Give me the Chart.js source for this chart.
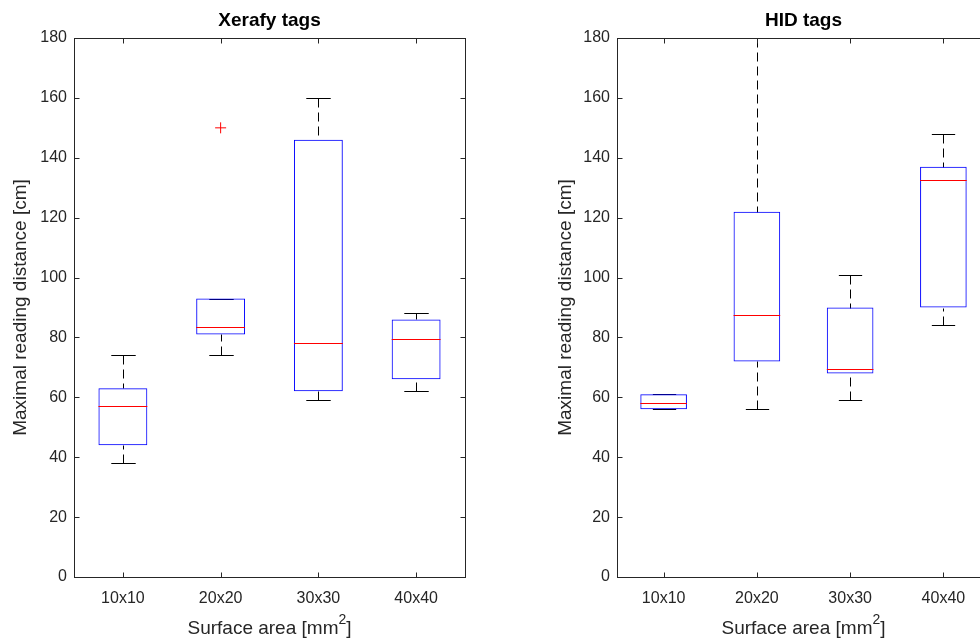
<!DOCTYPE html>
<html>
<head>
<meta charset="utf-8">
<script src="https://cdn.jsdelivr.net/npm/chart.js@4.4.0/dist/chart.umd.min.js"></script>
<style>
  html, body { margin: 0; padding: 0; background: #fff; overflow: hidden; width: 980px; height: 640px; }
  canvas { position: absolute; top: 0; }
  #xerafyChart { left: 0; }
  #hidChart { left: 543px; }
</style>
</head>
<body>
<canvas id="xerafyChart" width="490" height="640"></canvas>
<canvas id="hidChart" width="490" height="640"></canvas>
<script>
// ---------------------------------------------------------------------------
// Data
// ---------------------------------------------------------------------------
const categories = ["10x10", "20x20", "30x30", "40x40"];

// Xerafy tags
const xerafyLow = [38, 74, 59, 62];
const xerafyQ1 = [44, 81, 62, 66];
const xerafyMedian = [57, 83.5, 78, 79.5];
const xerafyQ3 = [63, 93, 146, 86];
const xerafyHigh = [74, 93, 160, 88];
const xerafyOutliers = [null, 150, null, null];

// HID tags
const hidLow = [56, 56, 59, 84];
const hidQ1 = [56, 72, 68, 90];
const hidMedian = [58, 87.5, 69.5, 132.5];
const hidQ3 = [61, 122, 90, 137];
const hidHigh = [61, 180, 101, 148];
const hidOutliers = [null, null, null, null];

const FONT = "'Liberation Sans', Arial, Helvetica, sans-serif";
const AXIS = "#262626";
Chart.defaults.font.family = FONT;

const px = v => Math.round(v) + 0.5;

// whiskers, caps and medians drawn through the chart's own scales
function boxParts(low, q1, median, q3, high) {
  return {
    id: "boxParts",
    beforeDatasetsDraw(chart) {
      const { ctx, chartArea: a, scales: { x, y } } = chart;
      const step = x.getPixelForValue(1) - x.getPixelForValue(0);
      ctx.save();
      ctx.beginPath();
      ctx.rect(a.left, a.top, a.width, a.height);
      ctx.clip();
      ctx.strokeStyle = "#000";
      ctx.lineWidth = 1;
      categories.forEach((c, i) => {
        const cx = px(x.getPixelForValue(i));
        const cap = step * 0.125;
        const yLo = px(y.getPixelForValue(low[i])), yQ1 = px(y.getPixelForValue(q1[i]));
        const yHi = px(y.getPixelForValue(high[i])), yQ3 = px(y.getPixelForValue(q3[i]));
        ctx.setLineDash([9, 5]);
        ctx.beginPath();
        if (yLo !== yQ1) { ctx.moveTo(cx, yLo); ctx.lineTo(cx, yQ1); }
        if (yHi !== yQ3) { ctx.moveTo(cx, yHi); ctx.lineTo(cx, yQ3); }
        ctx.stroke();
        ctx.setLineDash([]);
        ctx.beginPath();
        ctx.moveTo(cx - cap, yLo); ctx.lineTo(cx + cap, yLo);
        ctx.moveTo(cx - cap, yHi); ctx.lineTo(cx + cap, yHi);
        ctx.stroke();
      });
      ctx.restore();
    },
    afterDatasetsDraw(chart) {
      const { ctx, scales: { x, y } } = chart;
      const step = x.getPixelForValue(1) - x.getPixelForValue(0);
      ctx.save();
      ctx.strokeStyle = "#ff0000";
      ctx.lineWidth = 1;
      ctx.beginPath();
      categories.forEach((c, i) => {
        const cx = x.getPixelForValue(i);
        const ym = px(y.getPixelForValue(median[i]));
        ctx.moveTo(cx - step / 4, ym);
        ctx.lineTo(cx + step / 4, ym);
      });
      ctx.stroke();
      ctx.restore();
    }
  };
}

// frame, inward ticks, title and x label with superscript
function frame(title) {
  return {
    id: "frame",
    afterDraw(chart) {
      const { ctx, chartArea: a, scales: { x, y } } = chart;
      const L = px(a.left), R = px(a.right), T = px(a.top), B = px(a.bottom);
      ctx.save();
      ctx.strokeStyle = AXIS;
      ctx.lineWidth = 1;
      ctx.strokeRect(L, T, R - L, B - T);
      ctx.beginPath();
      y.ticks.forEach(t => {
        const yy = px(y.getPixelForValue(t.value));
        ctx.moveTo(L, yy); ctx.lineTo(L + 5, yy);
        ctx.moveTo(R, yy); ctx.lineTo(R - 5, yy);
      });
      categories.forEach((c, i) => {
        const xx = px(x.getPixelForValue(i));
        ctx.moveTo(xx, B); ctx.lineTo(xx, B - 5);
        ctx.moveTo(xx, T); ctx.lineTo(xx, T + 5);
      });
      ctx.stroke();

      const mid = (a.left + a.right) / 2;
      ctx.fillStyle = "#000";
      ctx.textAlign = "center";
      ctx.textBaseline = "middle";
      ctx.font = "bold 19px " + FONT;
      ctx.fillText(title, mid, 21);

      // "Surface area [mm^2]"
      const main = "Surface area [mm", sup = "2", end = "]";
      ctx.fillStyle = AXIS;
      ctx.font = "19px " + FONT;
      const w1 = ctx.measureText(main).width, w3 = ctx.measureText(end).width;
      ctx.font = "14px " + FONT;
      const w2 = ctx.measureText(sup).width;
      let sx = mid - (w1 + w2 + w3) / 2;
      ctx.textAlign = "left";
      ctx.font = "19px " + FONT;
      ctx.fillText(main, sx, 629);
      ctx.font = "14px " + FONT;
      ctx.fillText(sup, sx + w1, 620);
      ctx.font = "19px " + FONT;
      ctx.fillText(end, sx + w1 + w2, 629);
      ctx.restore();
    }
  };
}

function makeChart(canvasId, title, low, q1, median, q3, high, outliers, padRight, yTitlePad) {
  return new Chart(document.getElementById(canvasId), {
    type: "bar",
    data: {
      labels: categories,
      datasets: [
        {
          label: "box",
          data: categories.map((c, i) => [q1[i], q3[i]]),
          backgroundColor: "rgba(0,0,0,0)",
          borderColor: "#0000ff",
          borderWidth: 1,
          borderSkipped: false,
          barPercentage: 0.5,
          categoryPercentage: 1,
        },
        {
          type: "line",
          label: "outliers",
          data: outliers,
          showLine: false,
          pointStyle: "cross",
          pointRadius: 5.5,
          pointBorderWidth: 1,
          borderColor: "#ff0000",
          backgroundColor: "#ff0000",
        }
      ]
    },
    options: {
      responsive: false,
      animation: false,
      events: [],
      layout: { padding: { top: 38, right: padRight, left: 0, bottom: 0 } },
      plugins: { legend: { display: false }, tooltip: { enabled: false }, title: { display: false } },
      scales: {
        x: {
          grid: { display: false, drawTicks: false },
          border: { display: false },
          ticks: { color: AXIS, font: { size: 16 }, padding: 12, maxRotation: 0 },
          afterFit: s => { s.height = 63; },
        },
        y: {
          min: 0,
          max: 180,
          grid: { display: false, drawTicks: false },
          border: { display: false },
          ticks: { stepSize: 20, color: AXIS, font: { size: 16 }, padding: 7 },
          title: {
            display: true,
            text: "Maximal reading distance [cm]",
            color: AXIS,
            font: { size: 19 },
            padding: { top: yTitlePad, bottom: 0 },
          },
          afterFit: s => { s.width = 74; },
        }
      }
    },
    plugins: [boxParts(low, q1, median, q3, high), frame(title)]
  });
}

makeChart("xerafyChart", "Xerafy tags", xerafyLow, xerafyQ1, xerafyMedian, xerafyQ3, xerafyHigh, xerafyOutliers, 25, 9);
makeChart("hidChart", "HID tags", hidLow, hidQ1, hidMedian, hidQ3, hidHigh, hidOutliers, 43, 11.6);
</script>
</body>
</html>
